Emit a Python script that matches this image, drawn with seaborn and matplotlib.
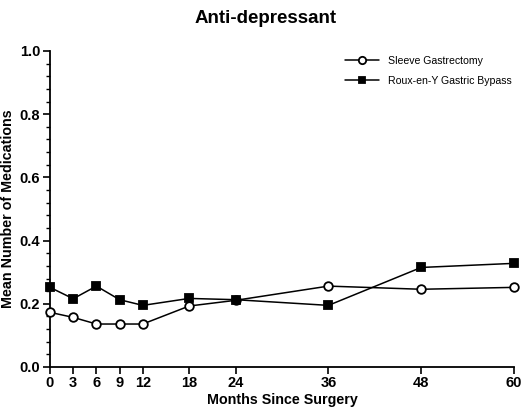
import matplotlib
matplotlib.use("Agg")
import matplotlib.pyplot as plt
import numpy as np
import pandas as pd
import seaborn as sns
from matplotlib.ticker import MultipleLocator

# datos
months = [0, 3, 6, 9, 12, 18, 24, 36, 48, 60]
sleeve = [0.173, 0.157, 0.136, 0.136, 0.136, 0.193, 0.211, 0.256, 0.246, 0.252]
rygb = [0.252, 0.216, 0.256, 0.213, 0.195, 0.217, 0.213, 0.195, 0.315, 0.328]

df = pd.DataFrame({
    'Months': months * 2,
    'Mean': sleeve + rygb,
    'Group': ['Sleeve Gastrectomy'] * len(months)
             + ['Roux-en-Y Gastric Bypass'] * len(months),
})

sns.set_style('ticks')
plt.rcParams['font.family'] = ['Liberation Sans', 'DejaVu Sans']
plt.rcParams['text.color'] = 'black'
plt.rcParams['axes.labelcolor'] = 'black'
plt.rcParams['xtick.color'] = 'black'
plt.rcParams['ytick.color'] = 'black'

fig = plt.figure(figsize=(5.32, 4.09), dpi=100)
ax = fig.add_axes([50 / 532, 1 - 367 / 409, 464 / 532, 316 / 409])

estilos = {
    'Sleeve Gastrectomy': dict(marker='o', mfc='white', ms=6.2),
    'Roux-en-Y Gastric Bypass': dict(marker='s', mfc='black', ms=5.6),
}
for grupo, st in estilos.items():
    sub = df[df['Group'] == grupo]
    sns.lineplot(data=sub, x='Months', y='Mean', ax=ax, color='black',
                 linewidth=1.1, marker=st['marker'], markersize=st['ms'],
                 markerfacecolor=st['mfc'], markeredgecolor='black',
                 markeredgewidth=1.3, label=grupo, clip_on=False, zorder=3)

ax.set_xlim(0, 60)
ax.set_ylim(0, 1.0)
ax.set_xticks(months)
ax.yaxis.set_major_locator(MultipleLocator(0.2))
ax.yaxis.set_minor_locator(MultipleLocator(0.04))
ax.yaxis.set_major_formatter(matplotlib.ticker.FormatStrFormatter('%.1f'))
ax.tick_params(axis='both', which='major', length=5, width=1.2,
               labelsize=10.5, pad=2)
ax.tick_params(axis='x', which='major', pad=1.5)
ax.tick_params(axis='y', which='minor', length=3, width=1.0)
for lab in ax.get_xticklabels() + ax.get_yticklabels():
    lab.set_fontweight('bold')
for s in ['left', 'bottom']:
    ax.spines[s].set_linewidth(1.3)
    ax.spines[s].set_color('black')
sns.despine(ax=ax)

ax.set_xlabel('Months Since Surgery', fontsize=10.3, fontweight='bold',
              labelpad=2)
ax.set_ylabel('Mean Number of Medications', fontsize=10.3, fontweight='bold',
              labelpad=3)
fig.suptitle('Anti-depressant', fontsize=13.5, fontweight='bold',
             y=1 - 10 / 409)

ax.legend(loc='upper right', bbox_to_anchor=(1.015, 1.015), frameon=False,
          fontsize=7.6, handlelength=3.2, markerscale=0.85,
          labelspacing=0.95, handletextpad=0.8)

fig.savefig('out.png', dpi=100)
